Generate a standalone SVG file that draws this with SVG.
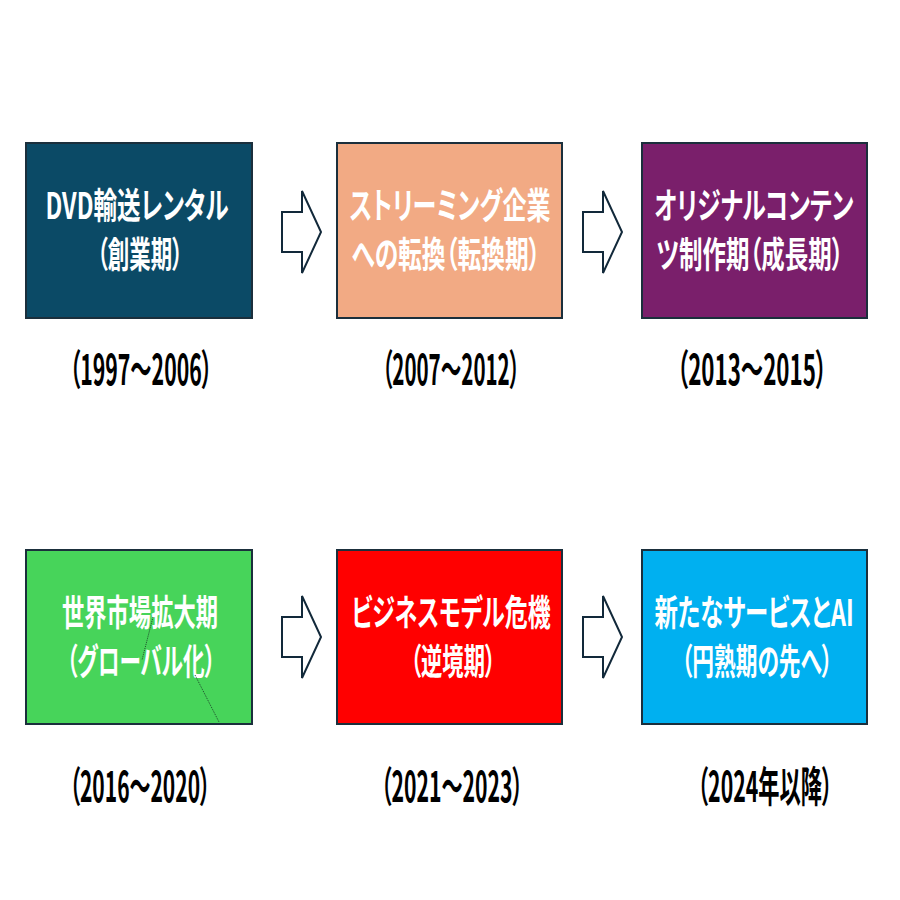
<svg xmlns="http://www.w3.org/2000/svg" width="900" height="900" viewBox="0 0 900 900">
<style>
.box{stroke:#1b2f3c;stroke-width:2}
.t{font-family:"Noto Sans CJK JP","Noto Sans",sans-serif;font-weight:700;font-size:36px;fill:#ffffff;text-anchor:middle;font-feature-settings:"palt";}
.y{font-family:"Noto Sans CJK JP","Noto Sans",sans-serif;font-weight:700;font-size:42px;fill:#000000;text-anchor:middle;font-feature-settings:"palt";}
.arr{fill:#ffffff;stroke:#12293a;stroke-width:2;stroke-linejoin:miter}
.dot{fill:none;stroke:#1e4a2c;stroke-width:1;stroke-dasharray:1 1}
</style>
<rect width="900" height="900" fill="#ffffff"/>
<g id="connectors">
<polygon class="arr" points="282,212 302,212 302,191 321,232 302,273 302,252 282,252"/>
<polygon class="arr" points="583,212 603,212 603,191 622,232 603,273 603,252 583,252"/>
<polygon class="arr" points="282,617 302,617 302,596 321,637 302,678 302,657 282,657"/>
<polygon class="arr" points="583,617 603,617 603,596 622,637 603,678 603,657 583,657"/>
</g>
<g id="node1">
<rect class="box" x="26" y="143" width="226" height="175" fill="#0b4a66"/>
<text class="t" transform="translate(137,219) scale(0.6,1)" textLength="305" lengthAdjust="spacingAndGlyphs">DVD輸送レンタル</text>
<text class="t" transform="translate(140,268) scale(0.6,1)" textLength="143" lengthAdjust="spacingAndGlyphs">（創業期）</text>
<text class="y" transform="translate(141,385) scale(0.6,1)" textLength="238" lengthAdjust="spacingAndGlyphs">（1997～2006）</text>
</g>
<g id="node2">
<rect class="box" x="337" y="143" width="225" height="175" fill="#f2aa84"/>
<text class="t" transform="translate(450,219) scale(0.6,1)" textLength="335" lengthAdjust="spacingAndGlyphs">ストリーミング企業</text>
<text class="t" transform="translate(446,268) scale(0.6,1)" textLength="315" lengthAdjust="spacingAndGlyphs">への転換（転換期）</text>
<text class="y" transform="translate(451,385) scale(0.6,1)" textLength="230" lengthAdjust="spacingAndGlyphs">（2007～2012）</text>
</g>
<g id="node3">
<rect class="box" x="642" y="143" width="225" height="175" fill="#7a1f6b"/>
<text class="t" transform="translate(754,219) scale(0.6,1)" textLength="332" lengthAdjust="spacingAndGlyphs">オリジナルコンテン</text>
<text class="t" transform="translate(750,268) scale(0.6,1)" textLength="312" lengthAdjust="spacingAndGlyphs">ツ制作期（成長期）</text>
<text class="y" transform="translate(752,385) scale(0.6,1)" textLength="250" lengthAdjust="spacingAndGlyphs">（2013～2015）</text>
</g>
<g id="node4">
<rect class="box" x="26" y="550" width="226" height="174" fill="#47d45a"/>
<text class="t" transform="translate(140,626) scale(0.6,1)" textLength="260" lengthAdjust="spacingAndGlyphs">世界市場拡大期</text>
<text class="t" transform="translate(141,675) scale(0.6,1)" textLength="248" lengthAdjust="spacingAndGlyphs">（グローバル化）</text>
<polyline class="dot" points="153,617 142,660"/>
<polyline class="dot" points="195,675 219,722"/>
<text class="y" transform="translate(140,802) scale(0.6,1)" textLength="235" lengthAdjust="spacingAndGlyphs">（2016～2020）</text>
</g>
<g id="node5">
<rect class="box" x="337" y="550" width="225" height="174" fill="#ff0000"/>
<text class="t" transform="translate(451,626) scale(0.6,1)" textLength="332" lengthAdjust="spacingAndGlyphs">ビジネスモデル危機</text>
<text class="t" transform="translate(453,675) scale(0.6,1)" textLength="142" lengthAdjust="spacingAndGlyphs">（逆境期）</text>
<text class="y" transform="translate(452,802) scale(0.6,1)" textLength="237" lengthAdjust="spacingAndGlyphs">（2021～2023）</text>
</g>
<g id="node6">
<rect class="box" x="642" y="550" width="225" height="174" fill="#00b0f0"/>
<text class="t" transform="translate(754,626) scale(0.6,1)" textLength="332" lengthAdjust="spacingAndGlyphs">新たなサービスとAI</text>
<text class="t" transform="translate(757,675) scale(0.6,1)" textLength="252" lengthAdjust="spacingAndGlyphs">（円熟期の先へ）</text>
<text class="y" transform="translate(765,802) scale(0.6,1)" textLength="225" lengthAdjust="spacingAndGlyphs">（2024年以降）</text>
</g>
</svg>
